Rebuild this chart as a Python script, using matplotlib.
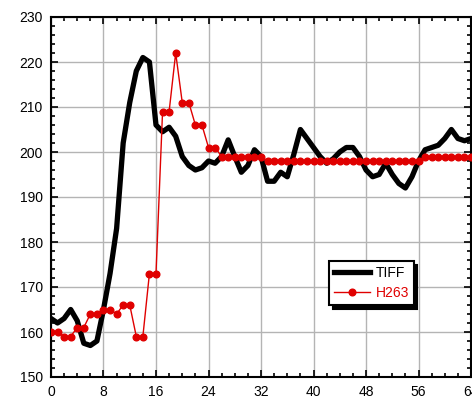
import numpy as np
import matplotlib
matplotlib.use("Agg")
import matplotlib.pyplot as plt
from matplotlib.ticker import MultipleLocator

plt.rcParams['font.family'] = ['Liberation Sans', 'DejaVu Sans']

# frame index
frames = list(range(0, 65))

# TIFF (thick black)
tiff = [163, 162, 163, 165, 162.5, 157.5, 157, 158, 165, 173,
        183, 202, 211, 218, 221, 220, 206, 204.5, 205.5, 203.5,
        199, 197, 196, 196.5, 198, 197.5, 199, 202.7, 199, 195.5,
        197, 200.5, 199, 193.5, 193.5, 195.5, 194.5, 199.5, 205, 203,
        201, 199, 197.5, 198.5, 200, 201, 201, 199, 196, 194.5,
        195, 197.5, 195, 193, 192, 194.5, 198, 200.5, 201, 201.5,
        203, 205, 203, 202.5, 203]

# H263 (red with dots)
h263 = [160, 160, 159, 159, 161, 161, 164, 164, 165, 165,
        164, 166, 166, 159, 159, 173, 173, 209, 209, 222,
        211, 211, 206, 206, 201, 201] + [199] * 7 + [198] * 24 + [199] * 8

fig = plt.figure(figsize=(4.72, 4.0), dpi=100)
ax = fig.add_axes([0.108, 0.0575, 0.89, 0.90])

ax.plot(frames, tiff, color='black', lw=3.8, label='TIFF', zorder=3)
ax.plot(frames, h263, color='#e00000', lw=1.0, marker='o', ms=4.8,
        label='H263', zorder=4)

ax.set_xlim(0, 64)
ax.set_ylim(150, 230)
ax.xaxis.set_major_locator(MultipleLocator(8))
ax.xaxis.set_minor_locator(MultipleLocator(2))
ax.yaxis.set_major_locator(MultipleLocator(10))
ax.yaxis.set_minor_locator(MultipleLocator(2))
ax.tick_params(which='both', direction='in', top=True, right=True,
               labelsize=10, width=1.2, pad=6)
ax.tick_params(which='major', length=5)
ax.tick_params(which='minor', length=3)
ax.grid(True, which='major', color='#b4b4b4', lw=1.0, zorder=0)
for s in ax.spines.values():
    s.set_linewidth(1.5)

leg = ax.legend(loc='upper left', bbox_to_anchor=(0.662, 0.322), fontsize=10,
                fancybox=False, edgecolor='black', framealpha=1,
                shadow={'color': 'black', 'alpha': 1, 'ox': 2.5, 'oy': -2.5},
                handlelength=2.6, handletextpad=0.4, borderpad=0.35,
                labelspacing=0.45, borderaxespad=0)
leg.get_frame().set_linewidth(1.5)
leg.get_texts()[1].set_color('#e00000')

fig.savefig("out.png", dpi=100)
